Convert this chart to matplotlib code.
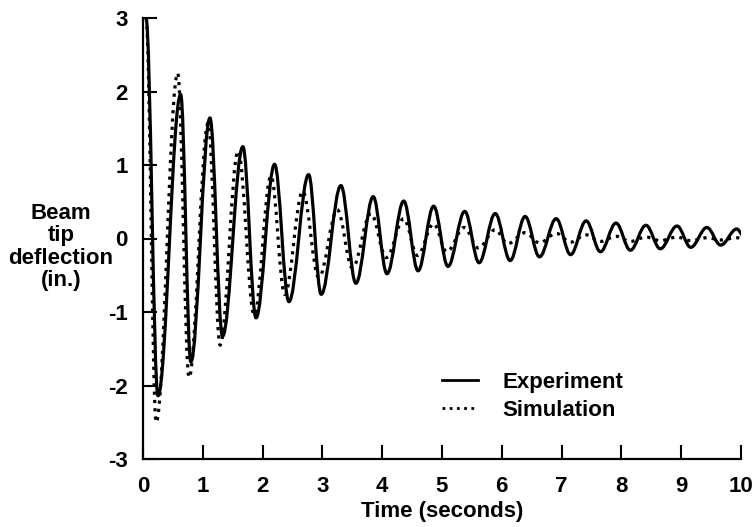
import numpy as np
import matplotlib
matplotlib.use("Agg")
import matplotlib.pyplot as plt
from matplotlib.path import Path
from matplotlib.patches import PathPatch
from matplotlib.lines import Line2D

# Extrema (peaks / troughs)
exp_t = [0.05, 0.25, 0.63, 0.80, 1.12, 1.33, 1.67, 1.89, 2.20, 2.44, 2.77, 2.98,
         3.31, 3.56, 3.85, 4.08, 4.36, 4.60, 4.86, 5.10, 5.38, 5.62, 5.89, 6.14,
         6.39, 6.63, 6.91, 7.15, 7.41, 7.65, 7.91, 8.15, 8.41, 8.65, 8.93, 9.16,
         9.43, 9.66, 9.93, 10.03]
exp_v = [3.00, -2.14, 1.96, -1.68, 1.64, -1.33, 1.25, -1.08, 1.01, -0.86, 0.87, -0.76,
         0.72, -0.61, 0.57, -0.48, 0.51, -0.44, 0.44, -0.38, 0.37, -0.33, 0.34, -0.30,
         0.30, -0.25, 0.27, -0.22, 0.24, -0.18, 0.21, -0.16, 0.18, -0.14, 0.17, -0.12,
         0.15, -0.09, 0.13, 0.05]

sim_t = [0.05, 0.22, 0.58, 0.77, 1.09, 1.29, 1.59, 1.86, 2.14, 2.37, 2.67, 2.94,
         3.25, 3.50, 3.81, 4.07, 4.36, 4.59, 4.86, 5.08, 5.37, 5.61, 5.89, 6.10,
         6.39, 6.63, 6.91, 7.15, 7.41, 7.65, 7.91, 8.15, 8.41, 8.65, 8.93, 9.16,
         9.43, 9.66, 9.93, 10.03]
sim_v = [3.00, -2.50, 2.25, -1.89, 1.57, -1.45, 1.19, -1.04, 0.85, -0.76, 0.64, -0.53,
         0.39, -0.40, 0.34, -0.26, 0.27, -0.23, 0.20, -0.18, 0.15, -0.13, 0.12, -0.07,
         0.08, -0.06, 0.07, -0.05, 0.05, -0.04, 0.03, -0.04, 0.02, -0.03, 0.02, -0.03,
         0.01, -0.02, 0.01, 0.00]

x_ticks = [0, 1, 2, 3, 4, 5, 6, 7, 8, 9, 10]
y_ticks = [-3, -2, -1, 0, 1, 2, 3]
series_labels = ["Experiment", "Simulation"]

plt.rcParams['font.family'] = ['Liberation Sans', 'DejaVu Sans']
plt.rcParams['font.weight'] = 'bold'
FS = 16


def smooth_path(ts, vs, k=0.364):
    """Cubic Bezier path through the extrema with flat tangents at each one."""
    verts = [(ts[0], vs[0])]
    codes = [Path.MOVETO]
    for i in range(len(ts) - 1):
        t0, v0, t1, v1 = ts[i], vs[i], ts[i + 1], vs[i + 1]
        dt = t1 - t0
        verts += [(t0 + k * dt, v0), (t1 - k * dt, v1), (t1, v1)]
        codes += [Path.CURVE4] * 3
    return Path(verts, codes)


fig = plt.figure(figsize=(7.52, 5.27), dpi=100)
ax = fig.add_axes([143 / 752, 1 - 459 / 527, (741 - 143) / 752, (459 - 18) / 527])

ax.add_patch(PathPatch(smooth_path(exp_t, exp_v), fill=False, edgecolor='black',
                       linewidth=2.3, linestyle='-', capstyle='round', joinstyle='round'))
ax.add_patch(PathPatch(smooth_path(sim_t, sim_v), fill=False, edgecolor='black',
                       linewidth=2.3, linestyle=(0, (1.0, 1.6))))

ax.set_xlim(0, 10)
ax.set_ylim(-3, 3)
ax.set_xticks(x_ticks)
ax.set_yticks(y_ticks)
ax.set_xticklabels([str(v) for v in x_ticks])
ax.set_yticklabels([str(v) for v in y_ticks])

for s in ['top', 'right']:
    ax.spines[s].set_visible(False)
for s in ['left', 'bottom']:
    ax.spines[s].set_linewidth(1.6)
    ax.spines[s].set_capstyle('projecting')

ax.tick_params(axis='both', direction='in', length=10, width=1.5, labelsize=FS)
ax.tick_params(axis='x', pad=12)
ax.tick_params(axis='y', pad=11)
for lab in ax.get_xticklabels() + ax.get_yticklabels():
    lab.set_fontweight('bold')

ax.set_xlabel("Time (seconds)", fontsize=FS, fontweight='bold', labelpad=3)
fig.text(61 / 752, 1 - 247 / 527, "Beam\ntip\ndeflection\n(in.)", ha='center', va='center',
         fontsize=FS, fontweight='bold', linespacing=1.1)

handles = [Line2D([], [], color='black', lw=2.0, linestyle='-'),
           Line2D([], [], color='black', lw=2.0, linestyle=(0, (1.0, 1.6)))]
leg = ax.legend(handles, series_labels, loc='upper left', frameon=False,
                bbox_to_anchor=(442 / 752, 1 - 372 / 527), bbox_transform=fig.transFigure,
                borderpad=0, borderaxespad=0, handlelength=1.6, handletextpad=1.1,
                labelspacing=0.3, prop={'size': FS, 'weight': 'bold'})

fig.savefig("out.png", dpi=100)
